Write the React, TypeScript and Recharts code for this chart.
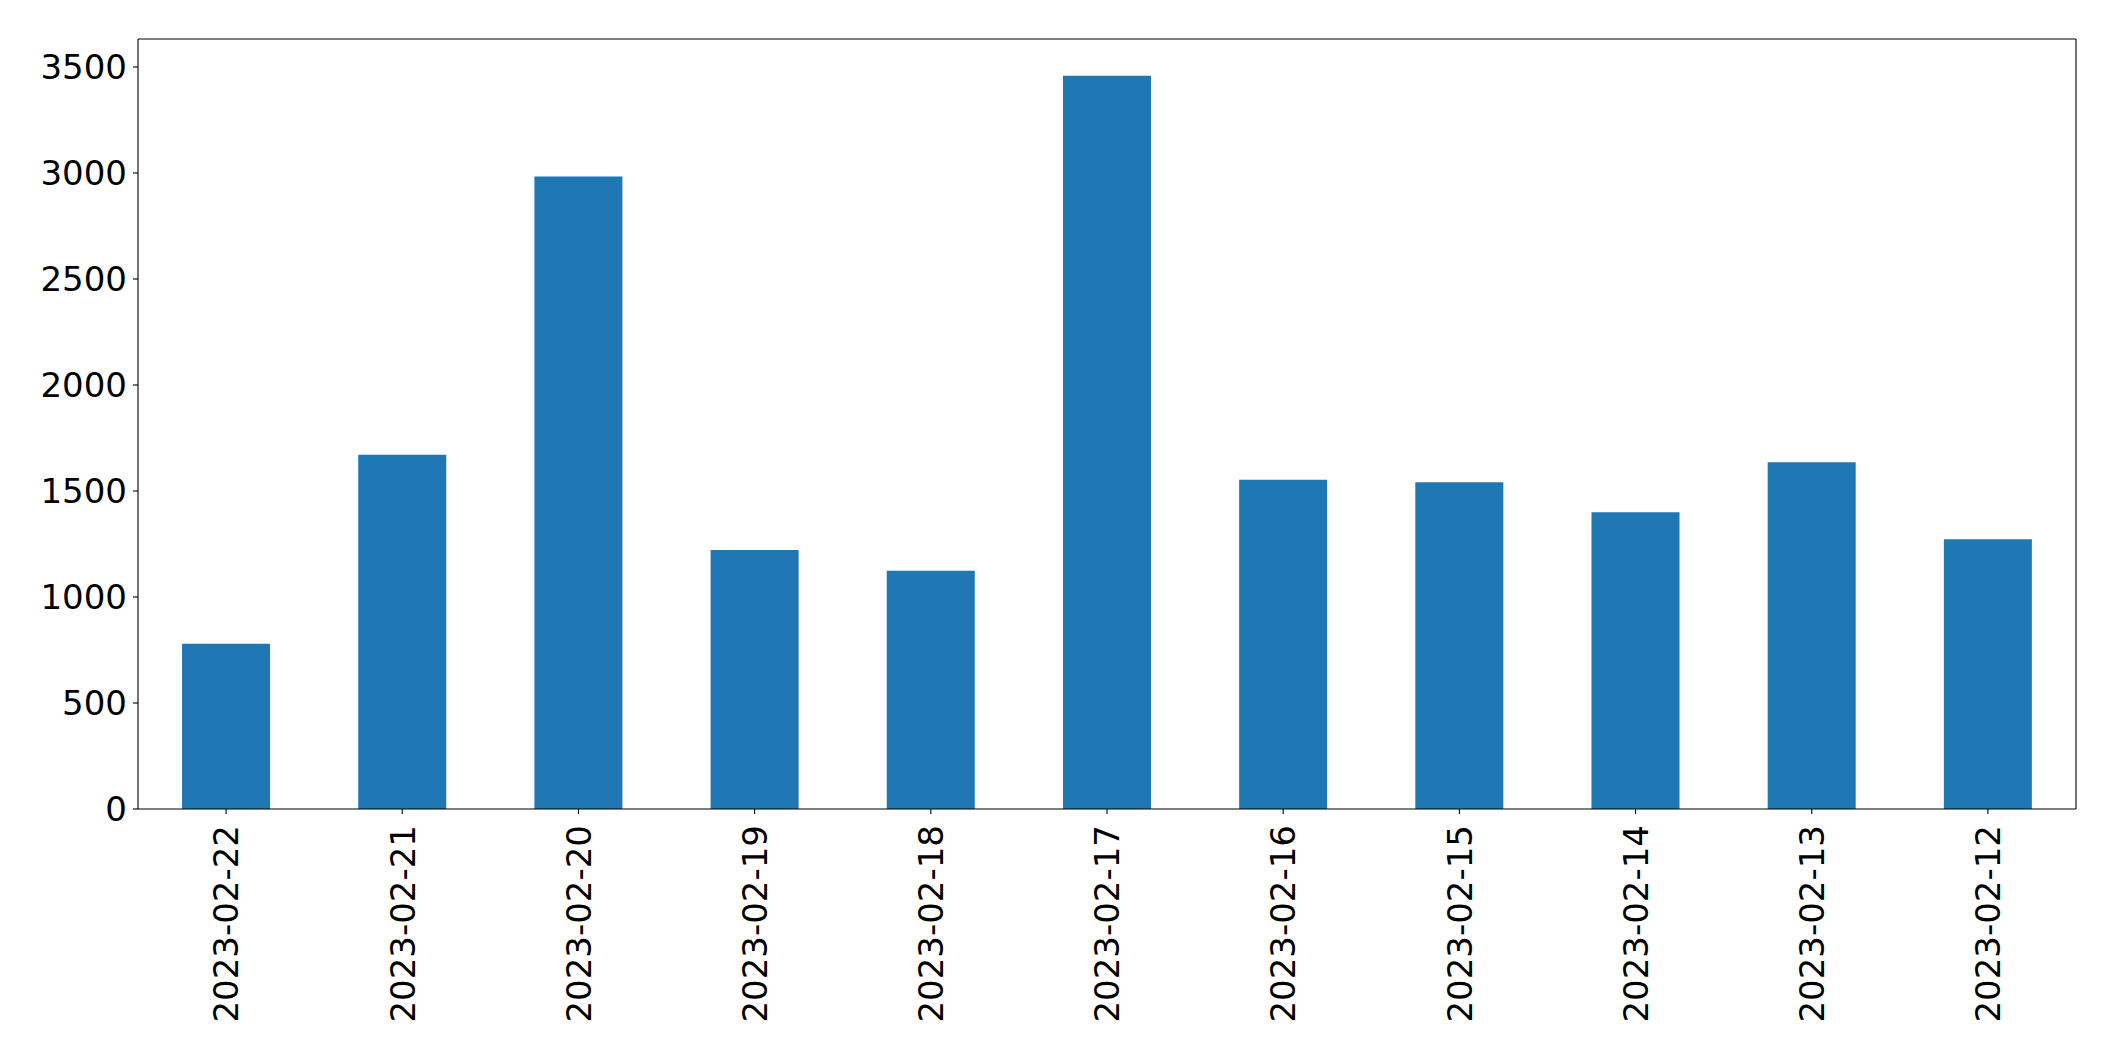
import React from 'react';
import { BarChart, Bar, XAxis, YAxis } from 'recharts';

const dates = [
    '2023-02-22', '2023-02-21', '2023-02-20', '2023-02-19', '2023-02-18', '2023-02-17',
    '2023-02-16', '2023-02-15', '2023-02-14', '2023-02-13', '2023-02-12',
];
const counts = [780, 1671, 2983, 1222, 1124, 3459, 1553, 1541, 1400, 1635, 1272];
const yTicks = [0, 500, 1000, 1500, 2000, 2500, 3000, 3500];

const data = dates.map((d, i) => ({ date: d, value: counts[i] }));

const FONT = '"DejaVu Sans", sans-serif';

const DateTick = (props: any) => {
    const { x, y, payload } = props;
    return (
        <g transform={`translate(${x},${y})`}>
            <text
                transform="rotate(-90)"
                x={-9}
                y={0}
                dy="0.36em"
                textAnchor="end"
                fontSize={34}
                fontFamily={FONT}
                fill="#000"
            >
                {payload.value}
            </text>
        </g>
    );
};

const App: React.FC = () => {
    return (
        <div style={{ position: 'absolute', left: 0, top: 0, background: '#fff' }}>
            <BarChart
                width={2115}
                height={1061}
                data={data}
                margin={{ top: 38, right: 38, left: 0, bottom: 0 }}
                barCategoryGap="25%"
            >
                <XAxis
                    dataKey="date"
                    interval={0}
                    height={252}
                    tick={<DateTick />}
                    tickSize={5}
                    tickMargin={2}
                    axisLine={{ stroke: '#000', strokeWidth: 1.1 }}
                    tickLine={{ stroke: '#000', strokeWidth: 1.1 }}
                />
                <XAxis
                    xAxisId="top"
                    dataKey="date"
                    orientation="top"
                    height={1}
                    tick={false}
                    tickLine={false}
                    axisLine={{ stroke: '#000', strokeWidth: 1.1 }}
                />
                <YAxis
                    width={138}
                    domain={[0, 3632]}
                    ticks={yTicks}
                    allowDataOverflow
                    tickSize={5}
                    tickMargin={6}
                    tick={{ fontSize: 34, fontFamily: FONT, fill: '#000' }}
                    axisLine={{ stroke: '#000', strokeWidth: 1.1 }}
                    tickLine={{ stroke: '#000', strokeWidth: 1.1 }}
                />
                <YAxis
                    yAxisId="right"
                    orientation="right"
                    width={1}
                    domain={[0, 1]}
                    tick={false}
                    tickLine={false}
                    axisLine={{ stroke: '#000', strokeWidth: 1.1 }}
                />
                <Bar dataKey="value" fill="#1f77b4" isAnimationActive={false} />
            </BarChart>
        </div>
    );
};

export default App;
